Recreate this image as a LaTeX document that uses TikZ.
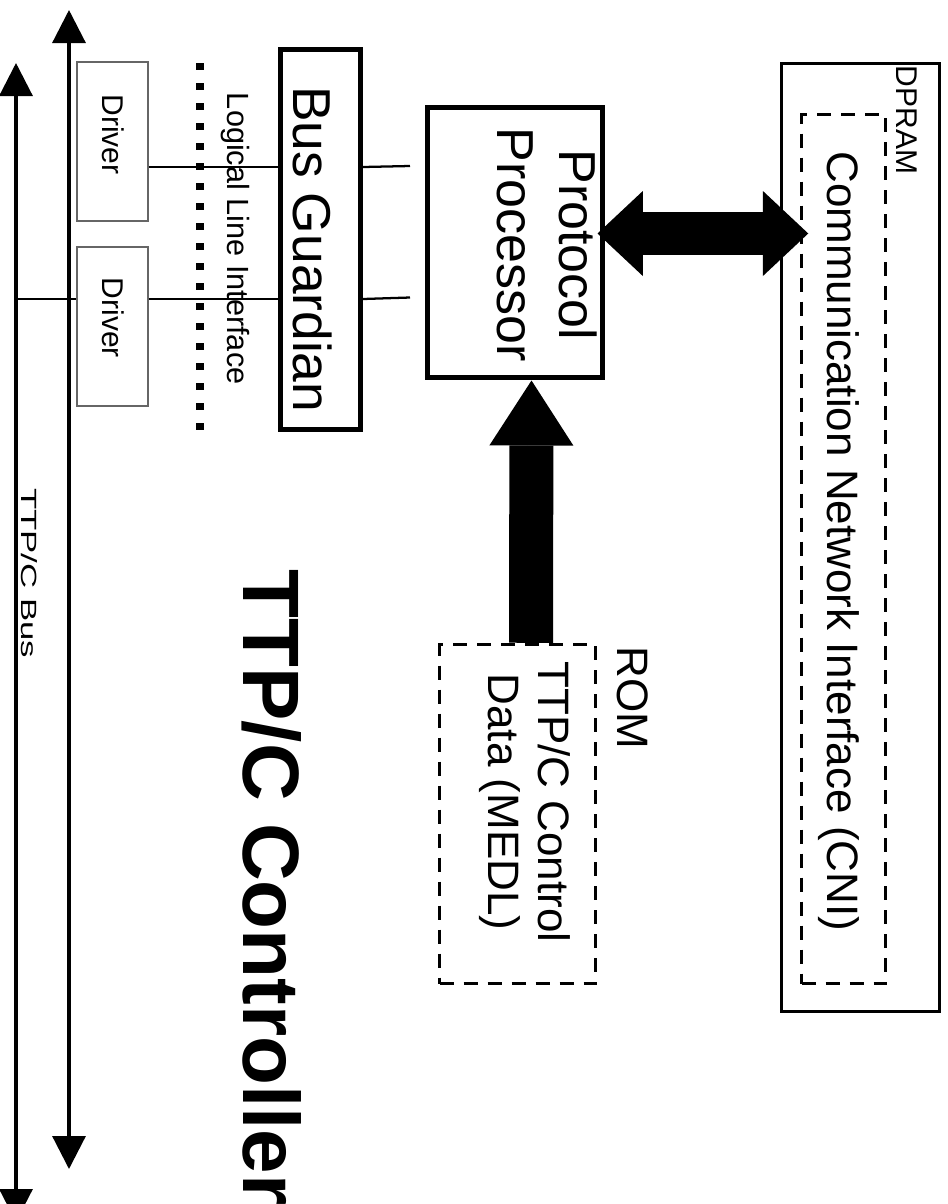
\documentclass[tikz,border=0pt]{standalone}
\usepackage{fontspec}
\usepackage{graphicx}
\setmainfont{Liberation Sans}
\usetikzlibrary{arrows.meta,calc}
\tikzset{
  fathead/.tip={Triangle[width=63.75pt,length=34pt,line width=0pt]},
  uphead/.tip={Triangle[width=63pt,length=48.75pt,line width=0pt]},
  bushead/.tip={Triangle[width=24.75pt,length=24.75pt]}
}
\begin{document}
\begin{tikzpicture}[x=0.75pt,y=-0.75pt,
  bus/.style={line width=2.4pt,{bushead}-{bushead}},
  wire/.style={line width=1.7pt},
  drvbox/.style={draw=black!60,line width=1pt,minimum width=53.25pt,
    minimum height=119.25pt,inner sep=0pt},
  unitbox/.style={draw,line width=3.75pt,inner sep=0pt},
  membox/.style={draw,line width=2.25pt,inner sep=0pt},
  dashbox/.style={draw,line width=2.6pt,dash pattern=on 10.5pt off 7.5pt,inner sep=0pt},
  lbl/.style={inner sep=0pt,rotate=-90,anchor=base west},
  blk/.style={inner sep=0pt,rotate=-90,align=center},
  small/.style={font=\fontsize{22.5pt}{27pt}\selectfont},
  medium/.style={font=\fontsize{33pt}{37.5pt}\selectfont},
  large/.style={font=\fontsize{39pt}{46.5pt}\selectfont}
]
\useasboundingbox (0,0) rectangle (948,1204);
\clip (0,0) rectangle (948,1204);

% boxes
\node[drvbox] (drv1) at (112.5,141.5) {};
\node[drvbox] (drv2) at (112.5,326.5) {};
\node[unitbox,minimum width=60pt,minimum height=285pt] (bg) at (320.5,239.5) {};
\node[unitbox,minimum width=131.25pt,minimum height=202.5pt] (pp) at (515,242.5) {};
\node[dashbox,minimum width=117pt,minimum height=254.25pt] (rom) at (517.5,814) {};
\node[membox,minimum width=118.5pt,minimum height=711pt] (dpram) at (860.5,537.5) {};
\node[dashbox,minimum width=63pt,minimum height=651.75pt] (cni) at (843.5,549) {};

% the two bus lines
\coordinate (busAtop) at (16,63);
\coordinate (busAbot) at (16,1222);
\coordinate (busBtop) at (69,10);
\coordinate (busBbot) at (69,1169);
\draw[bus] (busAtop) -- (busAbot);
\draw[bus] (busBtop) -- (busBbot);

% logical line interface
\coordinate (lliTop) at (200,63);
\coordinate (lliBot) at (200,431);
\draw[line width=6.2pt,dash pattern=on 5.5pt off 9.5pt] (lliTop) -- (lliBot);

% line connections
\coordinate (row1) at (0,167);
\coordinate (row2) at (0,299);
\coordinate (stub1) at (410,166);
\coordinate (stub2) at (410,297.5);
\draw[wire] (drv1.east |- row1) -- (bg.west |- row1);
\draw[wire] (bg.east |- row1) -- (stub1);
\draw[wire] (busAtop |- row2) -- (drv2.west |- row2);
\draw[wire] (drv2.east |- row2) -- (bg.west |- row2);
\draw[wire] (bg.east |- row2) -- (stub2);

% data paths
\draw[line width=32.25pt,{fathead}-{fathead}]
  ($(pp.east)+(-7.5,-9)$) -- ($(cni.west |- pp.east)+(8.5,-9)$);
\draw[line width=33pt,-{uphead}]
  ($(rom.north)+(13.5,0)$) -- ($(pp.south)+(16.5,0.5)$);

% labels
\node[lbl,small] (tDrv1) at (102,94.3) {Driver};
\node[lbl,small] (tDrv2) at (102,277.6) {Driver};
\node[lbl,font=\fontsize{23pt}{27pt}\selectfont] (tLli) at (227,92.7) {Logical Line Interface};
\node[lbl,font=\fontsize{40pt}{48pt}\selectfont] (tBg) at (293,86) {Bus Guardian};
\node[lbl,font=\fontsize{16.5pt}{20pt}\selectfont] (tBus) at (21.7,488) {\scalebox{1.58}[1]{TTP/C Bus}};
\node[lbl,small] (tDpram) at (896.7,65.6) {DPRAM};
\node[lbl,medium] (tCni) at (827,151) {Communication Network Interface (CNI)};
\node[lbl,medium] (tRom) at (617,646.5) {ROM};
\node[blk,large] (tPp) at (547.5,245) {Protocol\\Processor};
\node[blk,medium] (tMedl) at (524.4,802) {TTP/C Control\\Data (MEDL)};
\node[lbl,font=\fontsize{60pt}{72pt}\selectfont\bfseries] (tTitle) at (243,569.5) {TTP/C Controller};
\end{tikzpicture}
\end{document}
